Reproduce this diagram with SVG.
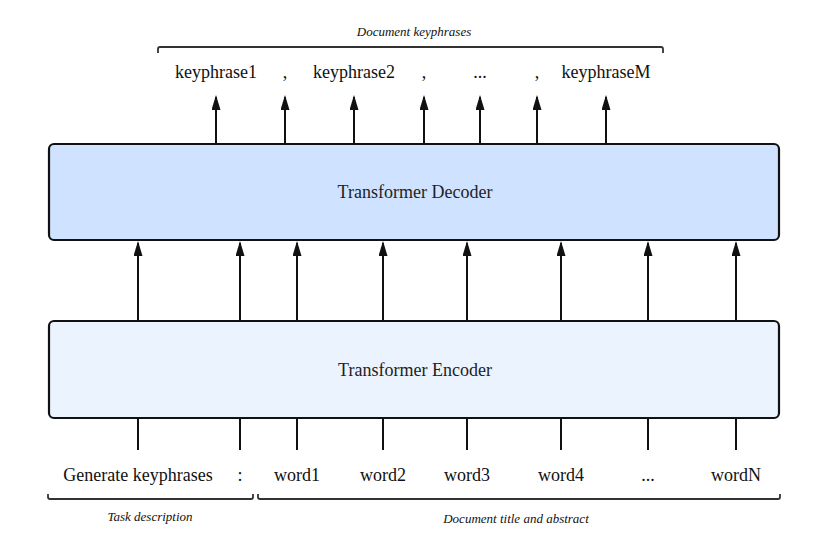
<svg xmlns="http://www.w3.org/2000/svg" width="830" height="550" viewBox="0 0 830 550">
<style>
.box{stroke:#111;stroke-width:2.2}
.lbl{font-family:"Liberation Serif","DejaVu Serif",serif;font-size:18px;fill:#111;text-anchor:middle}
.box-lbl{font-family:"Liberation Serif","DejaVu Serif",serif;font-size:18px;fill:#222;text-anchor:middle}
.cap{font-family:"Liberation Serif","DejaVu Serif",serif;font-size:13px;font-style:italic;fill:#111;text-anchor:middle}
.ln{stroke:#111;stroke-width:2;fill:none}
.br{stroke:#333;stroke-width:1.8;fill:none}
</style>
<defs>
<marker id="ah" markerUnits="userSpaceOnUse" markerWidth="15" markerHeight="9" refX="13" refY="4.5" orient="auto" viewBox="0 0 15 9">
<path d="M0,0 L15,4.5 L0,9 Z" fill="#111"/>
</marker>
</defs>
<g id="decoder">
<rect class="box" x="49" y="144" width="730" height="96" rx="5" fill="#cfe2ff"/>
<text class="box-lbl" x="415" y="198">Transformer Decoder</text>
</g>
<g id="encoder">
<rect class="box" x="49" y="321" width="730" height="97" rx="5" fill="#ebf3ff"/>
<text class="box-lbl" x="415" y="376">Transformer Encoder</text>
</g>
<g id="outputs">
<text class="lbl" x="216" y="78">keyphrase1</text>
<text class="lbl" x="285" y="78">,</text>
<text class="lbl" x="354" y="78">keyphrase2</text>
<text class="lbl" x="424" y="78">,</text>
<text class="lbl" x="480" y="78">...</text>
<text class="lbl" x="537" y="78">,</text>
<text class="lbl" x="606" y="78">keyphraseM</text>
</g>
<g id="inputs">
<text class="lbl" x="138" y="481">Generate keyphrases</text>
<text class="lbl" x="240" y="481">:</text>
<text class="lbl" x="297" y="481">word1</text>
<text class="lbl" x="383" y="481">word2</text>
<text class="lbl" x="467" y="481">word3</text>
<text class="lbl" x="561" y="481">word4</text>
<text class="lbl" x="648" y="481">...</text>
<text class="lbl" x="736" y="481">wordN</text>
</g>
<g id="brace-top">
<path class="br" d="M158,53 L158,49 Q158,47 160,47 L661,47 Q663,47 663,49 L663,53"/>
<text class="cap" x="414" y="36">Document keyphrases</text>
</g>
<g id="brace-task">
<path class="br" d="M48,494 L48,497 Q48,499 50,499 L251,499 Q253,499 253,497 L253,494"/>
<text class="cap" x="150" y="521">Task description</text>
</g>
<g id="brace-doc">
<path class="br" d="M258,494 L258,497 Q258,499 260,499 L778,499 Q780,499 780,497 L780,494"/>
<text class="cap" x="516" y="523">Document title and abstract</text>
</g>
<g id="connectors">
<line class="ln" x1="216" y1="143" x2="216" y2="97" marker-end="url(#ah)"/>
<line class="ln" x1="285" y1="143" x2="285" y2="97" marker-end="url(#ah)"/>
<line class="ln" x1="354" y1="143" x2="354" y2="97" marker-end="url(#ah)"/>
<line class="ln" x1="424" y1="143" x2="424" y2="97" marker-end="url(#ah)"/>
<line class="ln" x1="480" y1="143" x2="480" y2="97" marker-end="url(#ah)"/>
<line class="ln" x1="537" y1="143" x2="537" y2="97" marker-end="url(#ah)"/>
<line class="ln" x1="606" y1="143" x2="606" y2="97" marker-end="url(#ah)"/>
<line class="ln" x1="138" y1="320" x2="138" y2="243" marker-end="url(#ah)"/>
<line class="ln" x1="240" y1="320" x2="240" y2="243" marker-end="url(#ah)"/>
<line class="ln" x1="297" y1="320" x2="297" y2="243" marker-end="url(#ah)"/>
<line class="ln" x1="383" y1="320" x2="383" y2="243" marker-end="url(#ah)"/>
<line class="ln" x1="467" y1="320" x2="467" y2="243" marker-end="url(#ah)"/>
<line class="ln" x1="561" y1="320" x2="561" y2="243" marker-end="url(#ah)"/>
<line class="ln" x1="648" y1="320" x2="648" y2="243" marker-end="url(#ah)"/>
<line class="ln" x1="736" y1="320" x2="736" y2="243" marker-end="url(#ah)"/>
<line class="ln" x1="138" y1="419" x2="138" y2="450"/>
<line class="ln" x1="240" y1="419" x2="240" y2="450"/>
<line class="ln" x1="297" y1="419" x2="297" y2="450"/>
<line class="ln" x1="383" y1="419" x2="383" y2="450"/>
<line class="ln" x1="467" y1="419" x2="467" y2="450"/>
<line class="ln" x1="561" y1="419" x2="561" y2="450"/>
<line class="ln" x1="648" y1="419" x2="648" y2="450"/>
<line class="ln" x1="736" y1="419" x2="736" y2="450"/>
</g>
</svg>
